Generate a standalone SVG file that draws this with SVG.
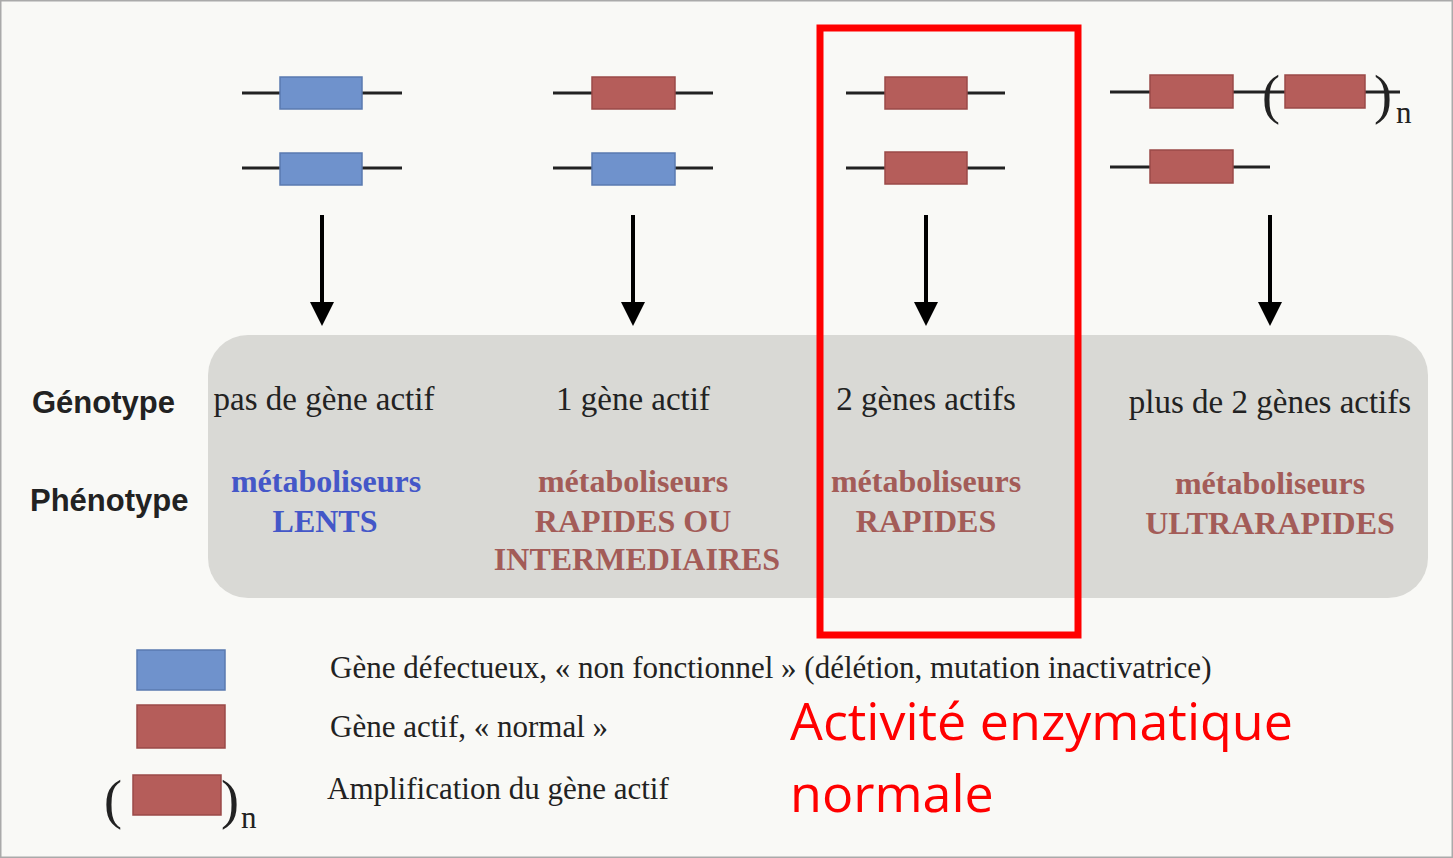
<svg xmlns="http://www.w3.org/2000/svg" width="1453" height="858" viewBox="0 0 1453 858">
<style>
.ln{stroke:#222;stroke-width:3}
.b{fill:#6f92cc;stroke:#5a7ab0;stroke-width:1.5}
.r{fill:#b55d5a;stroke:#9a4a48;stroke-width:1.5}
.ar{stroke:#000;stroke-width:4;fill:none}
.s{font-family:"Liberation Serif",serif;font-size:33px;fill:#222;text-anchor:middle}
.lab{font-family:"Liberation Sans",sans-serif;font-size:31px;font-weight:bold;fill:#222}
.ph{font-family:"Liberation Serif",serif;font-size:32px;font-weight:bold;text-anchor:middle}
.lg{font-family:"Liberation Serif",serif;font-size:31px;fill:#222}
.par{font-family:"Liberation Serif",serif;font-size:54px;fill:#222}
.red{font-family:"Open Sans","Liberation Sans",sans-serif;font-size:52px;fill:#f00}
</style>
<defs><marker id="ah" markerWidth="6" markerHeight="6" refX="4" refY="3" orient="auto" markerUnits="strokeWidth"><path d="M0,0 L6,3 L0,6 z" fill="#000"/></marker></defs>
<rect x="0" y="0" width="1453" height="858" fill="#f9f9f6" stroke="#aaa" stroke-width="3"/>
<rect x="208" y="335" width="1220" height="263" rx="40" fill="#d9d9d5"/>
<g id="gene1"><line class="ln" x1="242" y1="93" x2="402" y2="93"/><rect class="b" x="280" y="77" width="82" height="32"/><line class="ln" x1="242" y1="168" x2="402" y2="168"/><rect class="b" x="280" y="153" width="82" height="32"/></g>
<g id="gene2"><line class="ln" x1="553" y1="93" x2="713" y2="93"/><rect class="r" x="592" y="77" width="83" height="32"/><line class="ln" x1="553" y1="168" x2="713" y2="168"/><rect class="b" x="592" y="153" width="83" height="32"/></g>
<g id="gene3"><line class="ln" x1="846" y1="93" x2="1005" y2="93"/><rect class="r" x="885" y="77" width="82" height="32"/><line class="ln" x1="846" y1="168" x2="1005" y2="168"/><rect class="r" x="885" y="152" width="82" height="32"/></g>
<g id="gene4"><line class="ln" x1="1110" y1="92" x2="1400" y2="92"/><rect class="r" x="1150" y="75" width="83" height="33"/><text class="par" x="1262" y="113">(</text><rect class="r" x="1285" y="75" width="80" height="33"/><text class="par" x="1374" y="113">)</text><text class="lg" x="1396" y="123">n</text><line class="ln" x1="1110" y1="167" x2="1270" y2="167"/><rect class="r" x="1150" y="150" width="83" height="33"/></g>
<g id="connectors">
<line class="ar" x1="322" y1="215" x2="322" y2="318" marker-end="url(#ah)"/>
<line class="ar" x1="633" y1="215" x2="633" y2="318" marker-end="url(#ah)"/>
<line class="ar" x1="926" y1="215" x2="926" y2="318" marker-end="url(#ah)"/>
<line class="ar" x1="1270" y1="215" x2="1270" y2="318" marker-end="url(#ah)"/>
</g>
<g id="labels"><text class="lab" x="32" y="413">Génotype</text><text class="lab" x="30" y="511">Phénotype</text></g>
<g id="col1"><text class="s" x="324" y="410">pas de gène actif</text><text class="ph" x="326" y="492" fill="#4457c8">métaboliseurs</text><text class="ph" x="325" y="532" fill="#4457c8">LENTS</text></g>
<g id="col2"><text class="s" x="633" y="410">1 gène actif</text><text class="ph" x="633" y="492" fill="#a35c58">métaboliseurs</text><text class="ph" x="633" y="532" fill="#a35c58">RAPIDES OU</text><text class="ph" x="637" y="570" fill="#a35c58">INTERMEDIAIRES</text></g>
<g id="col3"><text class="s" x="926" y="410">2 gènes actifs</text><text class="ph" x="926" y="492" fill="#a35c58">métaboliseurs</text><text class="ph" x="926" y="532" fill="#a35c58">RAPIDES</text></g>
<g id="col4"><text class="s" x="1270" y="413">plus de 2 gènes actifs</text><text class="ph" x="1270" y="494" fill="#a35c58">métaboliseurs</text><text class="ph" x="1270" y="534" fill="#a35c58">ULTRARAPIDES</text></g>
<g id="highlight"><rect x="820" y="28" width="258" height="607" fill="none" stroke="#f00" stroke-width="7"/></g>
<g id="legend">
<rect class="b" x="137" y="650" width="88" height="40"/><text class="lg" x="330" y="678">Gène défectueux, « non fonctionnel » (délétion, mutation inactivatrice)</text>
<rect class="r" x="137" y="705" width="88" height="43"/><text class="lg" x="330" y="737">Gène actif, « normal »</text>
<text class="par" x="104" y="818">(</text><rect class="r" x="133" y="775" width="88" height="40"/><text class="par" x="221" y="818">)</text><text class="lg" x="241" y="828">n</text><text class="lg" x="327" y="799">Amplification du gène actif</text>
</g>
<g id="note"><text class="red" x="790" y="740">Activité enzymatique</text><text class="red" x="790" y="812">normale</text></g>
</svg>
